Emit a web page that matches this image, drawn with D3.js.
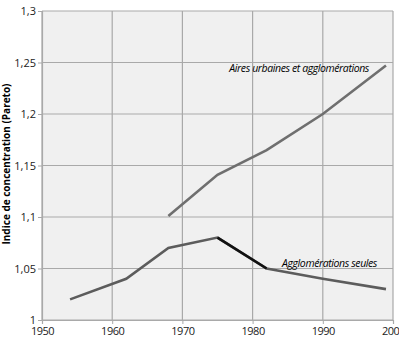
<!DOCTYPE html>
<html>
  <head>
    <meta charset="utf-8" />
    <script src="https://d3js.org/d3.v7.min.js"></script>
    <style>
      body { margin: 0; background: #fff; }
      .tick text { font-family: "Open Sans", sans-serif; font-size: 11px; fill: #222; }
    </style>
  </head>
  <body>
    <svg id="chart" width="399" height="339"></svg>
    <script>
      // data
      const aggloYears = [1954, 1962, 1968, 1975, 1982, 1990, 1999];
      const aggloValues = [1.02, 1.04, 1.07, 1.08, 1.05, 1.04, 1.03];
      const aireYears = [1968, 1975, 1982, 1990, 1999];
      const aireValues = [1.101, 1.141, 1.165, 1.2, 1.247];
      // segment drawn in black on the "agglomérations" line
      const highlightYears = [1975, 1982];
      const xTicks = [1950, 1960, 1970, 1980, 1990, 2000];
      const yTicks = [1, 1.05, 1.1, 1.15, 1.2, 1.25, 1.3];

      const svg = d3.select("#chart"),
        width = +svg.attr("width"),
        height = +svg.attr("height");
      const margin = { top: 11, right: 6, bottom: 19, left: 42 };

      const x = d3.scaleLinear().domain([1950, 2000]).range([margin.left, width - margin.right]);
      const y = d3.scaleLinear().domain([1, 1.3]).range([height - margin.bottom, margin.top]);
      const fmt = (d) => String(d).replace(".", ",");

      // plot background
      svg.append("rect")
        .attr("x", x(1950)).attr("y", y(1.3))
        .attr("width", x(2000) - x(1950)).attr("height", y(1) - y(1.3))
        .attr("fill", "#f0f0f0");

      // grid
      svg.append("g").selectAll("line").data(xTicks).join("line")
        .attr("x1", (d) => x(d)).attr("x2", (d) => x(d))
        .attr("y1", y(1.3)).attr("y2", y(1))
        .attr("stroke", "#a9a9a9").attr("stroke-width", 1.2);
      svg.append("g").selectAll("line").data(yTicks).join("line")
        .attr("x1", x(1950)).attr("x2", x(2000))
        .attr("y1", (d) => y(d)).attr("y2", (d) => y(d))
        .attr("stroke", "#a9a9a9").attr("stroke-width", 1.2);

      // axes
      const xAxis = svg.append("g")
        .attr("transform", `translate(0,${y(1)})`)
        .call(d3.axisBottom(x).tickValues(xTicks).tickFormat(d3.format("d")).tickSize(4).tickPadding(3));
      const yAxis = svg.append("g")
        .attr("transform", `translate(${x(1950)},0)`)
        .call(d3.axisLeft(y).tickValues(yTicks).tickFormat(fmt).tickSize(4).tickPadding(2));
      [xAxis, yAxis].forEach((a) => {
        a.select(".domain").attr("stroke", "#a9a9a9").attr("stroke-width", 1.2);
        a.selectAll(".tick line").attr("stroke", "#a9a9a9");
      });
      xAxis.selectAll(".tick text").attr("letter-spacing", "-0.5px");

      // y title
      svg.append("text")
        .attr("transform", `translate(10,164) rotate(-90)`)
        .attr("text-anchor", "middle")
        .style("font-family", "'Open Sans', sans-serif")
        .style("font-size", "10px").style("font-weight", "bold")
        .text("Indice de concentration (Pareto)");

      const line = d3.line().x((d) => x(d[0])).y((d) => y(d[1]));
      const agglo = aggloYears.map((yr, i) => [yr, aggloValues[i]]);
      const aire = aireYears.map((yr, i) => [yr, aireValues[i]]);

      svg.append("path").datum(aire).attr("d", line)
        .attr("fill", "none").attr("stroke", "#6f6f6f").attr("stroke-width", 2.6);
      svg.append("path").datum(agglo).attr("d", line)
        .attr("fill", "none").attr("stroke", "#5c5c5c").attr("stroke-width", 2.6);
      svg.append("path")
        .datum(agglo.filter((d) => d[0] >= highlightYears[0] && d[0] <= highlightYears[1]))
        .attr("d", line)
        .attr("fill", "none").attr("stroke", "#111").attr("stroke-width", 2.6);

      // series labels
      svg.append("text")
        .attr("x", 369).attr("y", 72)
        .attr("text-anchor", "end")
        .style("font-family", "'Open Sans', sans-serif")
        .style("font-size", "10.5px").style("font-style", "italic")
        .style("letter-spacing", "-0.4px")
        .text("Aires urbaines et agglomérations");
      svg.append("text")
        .attr("x", 377).attr("y", 267)
        .attr("text-anchor", "end")
        .style("font-family", "'Open Sans', sans-serif")
        .style("font-size", "10.5px").style("font-style", "italic")
        .style("letter-spacing", "-0.4px")
        .text("Agglomérations seules");
    </script>
  </body>
</html>
